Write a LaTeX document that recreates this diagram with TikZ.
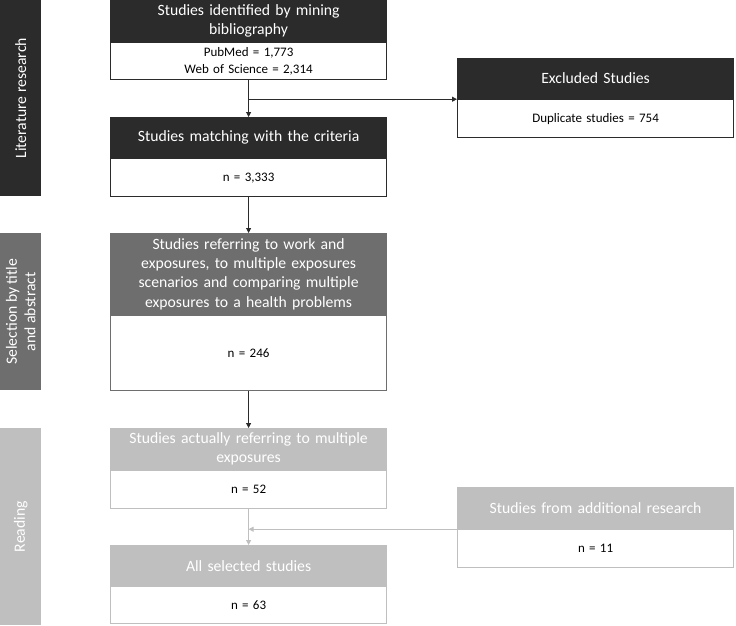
\documentclass[tikz,border=0pt]{standalone}
\usepackage{fontspec}
\setmainfont{Carlito}
\usetikzlibrary{arrows.meta}
\definecolor{cdark}{HTML}{2B2B2B}
\definecolor{cmid}{HTML}{6E6E6E}
\definecolor{clight}{HTML}{BFBFBF}
\begin{document}
\begin{tikzpicture}[x=1pt,y=-1pt,
  hdr/.style={draw=#1,fill=#1,line width=1.2pt,text=white,anchor=north west,inner sep=1pt,align=center,font=\fontsize{15.7}{19.3}\selectfont,text width=274pt},
  bdy/.style={draw=#1,fill=white,line width=1.2pt,text=black,anchor=north west,inner sep=1pt,align=center,font=\fontsize{13}{16.5}\selectfont,text width=274pt},
  side/.style={fill=#1,anchor=north west,minimum width=41pt,inner sep=0pt},
  sidelab/.style={text=white,rotate=90,align=center,font=\fontsize{15.7}{18.5}\selectfont},
  arr/.style={draw=#1,line width=0.9pt,-{Triangle[length=5pt,width=5pt]}},
  ln/.style={draw=#1,line width=0.9pt}]
\useasboundingbox (0,0) rectangle (736,625);
% side bars
\node[side=cdark,minimum height=196pt] (s1) at (0,0) {};
\node[sidelab] (l1) at (s1.center) {Literature research};
\node[side=cmid,minimum height=157pt] (s2) at (0,233) {};
\node[sidelab] (l2) at (s2.center) {Selection by title\\and abstract};
\node[side=clight,minimum height=197pt] (s3) at (0,428) {};
\node[sidelab] (l3) at (s3.center) {Reading};
% box 1
\node[hdr=cdark,minimum height=41pt] (h1) at (110,0) {Studies identified by mining\\bibliography};
\node[bdy=cdark,minimum height=37pt] (b1) at (h1.south west) {PubMed = 1,773\\Web of Science = 2,314};
% box 2
\node[hdr=cdark,minimum height=40pt] (h2) at (110,117) {Studies matching with the criteria};
\node[bdy=cdark,minimum height=38pt] (b2) at (h2.south west) {n = 3,333};
% excluded
\node[hdr=cdark,minimum height=40pt] (hx) at (457,58) {Excluded Studies};
\node[bdy=cdark,minimum height=38pt] (bx) at (hx.south west) {Duplicate studies = 754};
% box 3
\node[hdr=cmid,minimum height=81pt] (h3) at (110,233) {Studies referring to work and\\exposures, to multiple exposures\\scenarios and comparing multiple\\exposures to a health problems};
\node[bdy=cmid,minimum height=75pt] (b3) at (h3.south west) {n = 246};
% box 4
\node[hdr=clight,minimum height=41pt] (h4) at (110,428) {Studies actually referring to multiple\\exposures};
\node[bdy=clight,minimum height=38pt] (b4) at (h4.south west) {n = 52};
% additional
\node[hdr=clight,minimum height=41pt] (ha) at (457,487) {Studies from additional research};
\node[bdy=clight,minimum height=38pt] (ba) at (ha.south west) {n = 11};
% box 5
\node[hdr=clight,minimum height=40pt] (h5) at (110,545) {All selected studies};
\node[bdy=clight,minimum height=37pt] (b5) at (h5.south west) {n = 63};
% connectors
\draw[arr=cdark] (b1.south) -- (h2.north);
\coordinate (j1) at (b1.south |- hx.south west);
\draw[arr=cdark] (j1) -- (hx.south west);
\draw[arr=cdark] (b2.south) -- (h3.north);
\draw[arr=cdark] (b3.south) -- (h4.north);
\draw[arr=clight] (b4.south) -- (h5.north);
\coordinate (j2) at (b4.south |- ha.south west);
\draw[arr=clight] (ha.south west) -- (j2);
\end{tikzpicture}
\end{document}
